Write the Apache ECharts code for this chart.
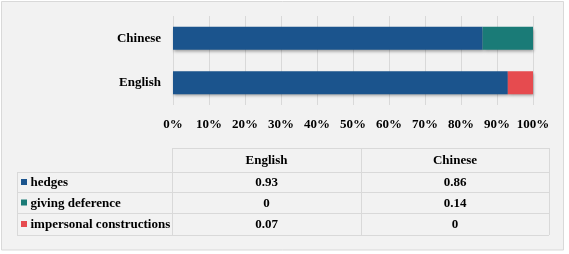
<!DOCTYPE html>
<html><head><meta charset="utf-8">
<script src="https://cdn.jsdelivr.net/npm/echarts@6/dist/echarts.min.js"></script>
<style>html,body{margin:0;padding:0;background:#fff}#c{width:569px;height:254px}</style>
</head><body><div id="c"></div>
<script>
const categories = ['English', 'Chinese'];
const seriesNames = ['hedges', 'giving deference', 'impersonal constructions'];
const hedges = [0.93, 0.86];
const givingDeference = [0, 0.14];
const impersonal = [0.07, 0];
const tickLabels = ['0%','10%','20%','30%','40%','50%','60%','70%','80%','90%','100%'];
const colors = ['#1b548d', '#1a7b77', '#e64b4f'];

const seriesValues = [hedges, givingDeference, impersonal];
const font = '"Liberation Serif", "Times New Roman", serif';
const chart = echarts.init(document.getElementById('c'), null, {renderer: 'canvas'});

// table layout
const tX = [17, 172, 361, 549];
const tY = [148, 172, 192, 213, 235];
const gridColor = '#d9d9d9';
const g = [];
g.push({type:'rect', z:-10, shape:{x:1.5,y:1.5,width:562,height:248.5}, style:{fill:'#f2f2f2', stroke:'#d9d9d9', lineWidth:1}});
g.push({type:'line', shape:{x1:tX[1],y1:tY[0]+0.5,x2:tX[3],y2:tY[0]+0.5}, style:{stroke:gridColor,lineWidth:1}});
for (let r = 1; r < tY.length; r++) {
  g.push({type:'line', shape:{x1:tX[0],y1:tY[r]+0.5,x2:tX[3],y2:tY[r]+0.5}, style:{stroke:gridColor,lineWidth:1}});
}
g.push({type:'line', shape:{x1:tX[0]+0.5,y1:tY[1],x2:tX[0]+0.5,y2:tY[4]}, style:{stroke:gridColor,lineWidth:1}});
for (let c = 1; c < tX.length; c++) {
  g.push({type:'line', shape:{x1:tX[c]+0.5,y1:tY[0],x2:tX[c]+0.5,y2:tY[4]}, style:{stroke:gridColor,lineWidth:1}});
}
categories.forEach((cat, i) => {
  g.push({type:'text', style:{text:cat, x:(tX[i+1]+tX[i+2])/2, y:(tY[0]+tY[1])/2+1, align:'center', verticalAlign:'middle', font:'bold 13px '+font, fill:'#000'}});
});
seriesNames.forEach((name, r) => {
  const cy = (tY[r+1]+tY[r+2])/2 + 1;
  g.push({type:'rect', shape:{x:21,y:cy-4,width:6,height:6}, style:{fill:colors[r]}});
  g.push({type:'text', style:{text:name, x:30.5, y:cy, align:'left', verticalAlign:'middle', font:'bold 13px '+font, fill:'#000'}});
  categories.forEach((cat, i) => {
    g.push({type:'text', style:{text:String(seriesValues[r][i]), x:(tX[i+1]+tX[i+2])/2, y:cy, align:'center', verticalAlign:'middle', font:'bold 13px '+font, fill:'#000'}});
  });
});

chart.setOption({
  animation: false,
  backgroundColor: 'transparent',
  grid: {left: 173, right: 36, top: 16, bottom: 149, containLabel: false},
  xAxis: {
    type: 'value', min: 0, max: 1, interval: 0.1,
    axisLine: {show: false}, axisTick: {show: false},
    splitLine: {show: true, lineStyle: {color: '#d9d9d9', width: 1}},
    axisLabel: {margin: 13, color: '#000', fontFamily: font, fontWeight: 'bold', fontSize: 13,
      formatter: (v) => tickLabels[Math.round(v * 10)]}
  },
  yAxis: {
    type: 'category', data: categories,
    axisLine: {show: false}, axisTick: {show: false},
    axisLabel: {margin: 12, color: '#000', fontFamily: font, fontWeight: 'bold', fontSize: 13}
  },
  series: seriesNames.map((name, i) => ({
    name, type: 'bar', stack: 'total', barWidth: 23,
    data: seriesValues[i],
    itemStyle: {color: colors[i], shadowColor: 'rgba(0,0,0,0.35)', shadowBlur: 3, shadowOffsetY: 2, shadowOffsetX: 1}
  })),
  graphic: g
});
</script></body></html>
